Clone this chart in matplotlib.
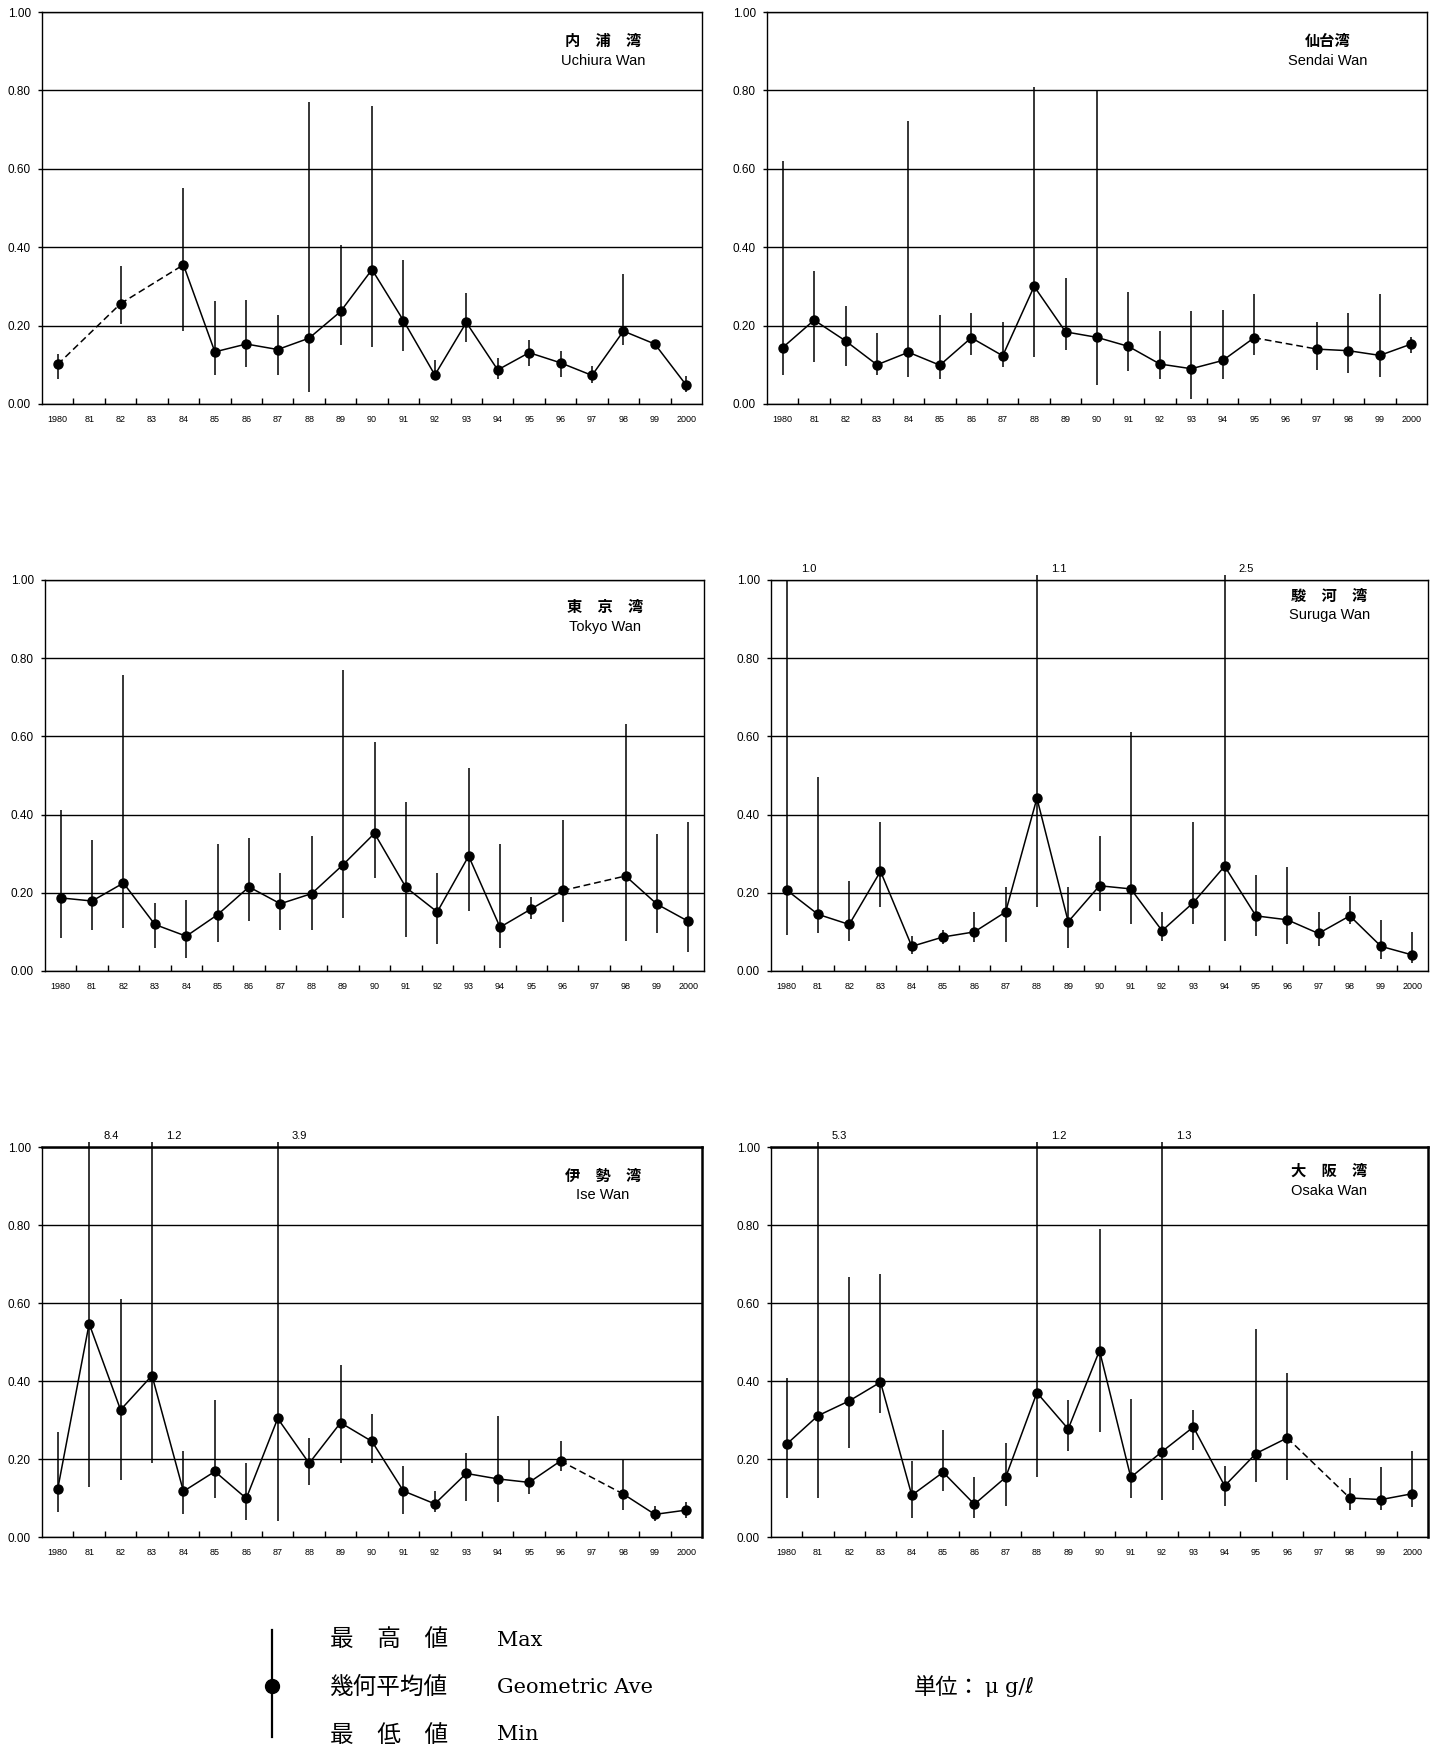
import numpy as np
import matplotlib.pyplot as plt
from matplotlib.patches import Rectangle

plt.rcParams['font.family'] = ['Liberation Sans', 'DejaVu Sans']

JP = ['Noto Sans CJK JP', 'DejaVu Sans']
SERIF = ['DejaVu Serif', 'DejaVu Sans']

nan = np.nan

years = list(range(1980, 2001))
year_labels = ['1980'] + ['%02d' % (y % 100) for y in years[1:-1]] + ['2000']

# geometric average / max / min per year (ug/l), nan = no survey
uchiura_ave = [0.101, nan, 0.256, nan, 0.355, 0.133, 0.153, 0.139, 0.168, 0.236, 0.343,
               0.213, 0.074, 0.208, 0.087, 0.131, 0.105, 0.073, 0.186, 0.153, 0.048]
uchiura_max = [0.128, nan, 0.351, nan, 0.552, 0.264, 0.266, 0.228, 0.770, 0.406, 0.761,
               0.367, 0.113, 0.283, 0.117, 0.163, 0.136, 0.096, 0.332, 0.164, 0.072]
uchiura_min = [0.065, nan, 0.205, nan, 0.185, 0.075, 0.094, 0.075, 0.030, 0.150, 0.145,
               0.135, 0.060, 0.159, 0.065, 0.098, 0.070, 0.053, 0.150, 0.143, 0.030]

sendai_ave = [0.144, 0.214, 0.161, 0.100, 0.132, 0.099, 0.169, 0.123, 0.300, 0.184, 0.170,
              0.147, 0.102, 0.090, 0.111, 0.169, nan, 0.140, 0.136, 0.124, 0.153]
sendai_max = [0.620, 0.340, 0.251, 0.181, 0.722, 0.226, 0.231, 0.210, 0.809, 0.322, 0.800,
              0.285, 0.186, 0.236, 0.241, 0.280, nan, 0.209, 0.231, 0.280, 0.171]
sendai_min = [0.073, 0.108, 0.098, 0.073, 0.069, 0.064, 0.124, 0.094, 0.119, 0.139, 0.049,
              0.083, 0.064, 0.014, 0.064, 0.124, nan, 0.086, 0.078, 0.069, 0.129]

tokyo_ave = [0.187, 0.179, 0.225, 0.119, 0.089, 0.144, 0.215, 0.172, 0.198, 0.272, 0.352,
             0.214, 0.151, 0.294, 0.112, 0.159, 0.206, nan, 0.243, 0.171, 0.127]
tokyo_max = [0.411, 0.336, 0.756, 0.175, 0.181, 0.325, 0.341, 0.250, 0.345, 0.771, 0.585,
             0.432, 0.250, 0.520, 0.325, 0.189, 0.386, nan, 0.631, 0.350, 0.381]
tokyo_min = [0.085, 0.105, 0.109, 0.060, 0.034, 0.074, 0.129, 0.105, 0.106, 0.135, 0.238,
             0.088, 0.069, 0.154, 0.059, 0.132, 0.126, nan, 0.078, 0.098, 0.049]

suruga_ave = [0.207, 0.145, 0.119, 0.255, 0.063, 0.087, 0.100, 0.151, 0.442, 0.126, 0.218,
              0.210, 0.103, 0.175, 0.268, 0.141, 0.131, 0.096, 0.141, 0.063, 0.041]
suruga_max = [1.0, 0.496, 0.231, 0.381, 0.089, 0.106, 0.150, 0.216, 1.1, 0.216, 0.345,
              0.610, 0.150, 0.381, 2.5, 0.245, 0.267, 0.150, 0.191, 0.130, 0.100]
suruga_min = [0.093, 0.098, 0.078, 0.164, 0.044, 0.069, 0.073, 0.074, 0.164, 0.060, 0.154,
              0.119, 0.078, 0.119, 0.078, 0.089, 0.069, 0.065, 0.119, 0.030, 0.020]

ise_ave = [0.123, 0.547, 0.326, 0.414, 0.117, 0.168, 0.099, 0.304, 0.189, 0.293, 0.245,
           0.118, 0.085, 0.163, 0.149, 0.140, 0.195, nan, 0.110, 0.058, 0.069]
ise_max = [0.270, 8.4, 0.610, 1.2, 0.221, 0.351, 0.191, 3.9, 0.255, 0.440, 0.316,
           0.182, 0.117, 0.215, 0.311, 0.197, 0.246, nan, 0.201, 0.080, 0.089]
ise_min = [0.064, 0.129, 0.145, 0.191, 0.060, 0.099, 0.044, 0.040, 0.134, 0.191, 0.191,
           0.060, 0.064, 0.093, 0.089, 0.111, 0.168, nan, 0.069, 0.041, 0.050]

osaka_ave = [0.238, 0.311, 0.349, 0.397, 0.107, 0.166, 0.084, 0.153, 0.370, 0.277, 0.478,
             0.153, 0.219, 0.282, 0.131, 0.214, 0.254, nan, 0.100, 0.096, 0.111]
osaka_max = [0.407, 5.3, 0.666, 0.675, 0.195, 0.275, 0.155, 0.242, 1.2, 0.351, 0.790,
             0.355, 1.3, 0.325, 0.183, 0.534, 0.420, nan, 0.151, 0.180, 0.220]
osaka_min = [0.099, 0.099, 0.229, 0.318, 0.050, 0.119, 0.050, 0.079, 0.155, 0.220, 0.269,
             0.099, 0.094, 0.224, 0.079, 0.140, 0.146, nan, 0.070, 0.070, 0.078]

bay_jp = ['内\u3000浦\u3000湾', '仙台湾', '東\u3000京\u3000湾',
          '駿\u3000河\u3000湾', '伊\u3000勢\u3000湾', '大\u3000阪\u3000湾']
bay_en = ['Uchiura Wan', 'Sendai Wan', 'Tokyo Wan', 'Suruga Wan', 'Ise Wan', 'Osaka Wan']

legend_jp = ['最\u3000高\u3000値', '幾何平均値', '最\u3000低\u3000値']
legend_en = ['Max', 'Geometric Ave', 'Min']

W, H = 1439, 1748
fig = plt.figure(figsize=(W / 100, H / 100), dpi=100)


def px_rect(x0, y0, x1, y1):
    return [x0 / W, 1 - y1 / H, (x1 - x0) / W, (y1 - y0) / H]


# axes boxes in pixels, name block position, frame width
layout = [
    (px_rect(42, 12, 702, 404), 0.85, 0.926, 1.0),
    (px_rect(767, 12, 1427, 404), 0.85, 0.926, 1.0),
    (px_rect(45, 580, 704, 971), 0.85, 0.930, 1.0),
    (px_rect(771, 580, 1428, 971), 0.85, 0.960, 1.0),
    (px_rect(42, 1147, 702, 1537), 0.85, 0.926, 1.8),
    (px_rect(771, 1147, 1428, 1537), 0.85, 0.938, 1.8),
]

series = [
    (uchiura_ave, uchiura_max, uchiura_min),
    (sendai_ave, sendai_max, sendai_min),
    (tokyo_ave, tokyo_max, tokyo_min),
    (suruga_ave, suruga_max, suruga_min),
    (ise_ave, ise_max, ise_min),
    (osaka_ave, osaka_max, osaka_min),
]


def draw_panel(rect, name_x, name_y, frame_w, jp, en, ave, vmax, vmin):
    ax = fig.add_axes(rect)
    ave = np.array(ave, float)
    vmax = np.array(vmax, float)
    vmin = np.array(vmin, float)
    x = np.arange(len(years))
    ok = ~np.isnan(ave)
    idx = x[ok]

    # max-min range bars, allowed to poke slightly above the frame
    bars = ax.vlines(idx, vmin[ok], vmax[ok], color='black', lw=1.1, zorder=2)
    bars.set_clip_path(Rectangle((0, 0), 1, 1.012, transform=ax.transAxes))

    # average line: dashed across a missing year
    for a, b in zip(idx[:-1], idx[1:]):
        ls = '-' if b - a == 1 else (0, (4.5, 2.5))
        ax.plot([a, b], [ave[a], ave[b]], color='black', lw=1.1, ls=ls, zorder=2)
    ax.plot(idx, ave[ok], 'o', color='black', ms=6.5, zorder=3)

    # off-scale maxima written above the frame
    for i in idx:
        if vmax[i] >= 1.0:
            ax.text(i + 0.45, 1.027, '%.1f' % vmax[i], transform=ax.get_xaxis_transform(),
                    ha='left', va='center', fontsize=8)

    ax.set_xlim(-0.5, len(years) - 0.5)
    ax.set_ylim(0, 1)
    ax.set_xticks(x)
    ax.set_xticklabels(year_labels, fontsize=6.5)
    ax.set_xticks(x[:-1] + 0.5, minor=True)
    ax.tick_params(axis='x', which='major', length=0, pad=8)
    ax.tick_params(axis='x', which='minor', direction='in', length=4, width=1.0)
    ax.set_yticks(np.arange(0, 1.01, 0.2))
    ax.set_yticklabels(['%.2f' % v for v in np.arange(0, 1.01, 0.2)], fontsize=8.5)
    ax.tick_params(axis='y', length=3, width=1.0, pad=5)
    ax.yaxis.grid(True, color='black', lw=1.0)
    ax.set_axisbelow(True)
    for s in ax.spines.values():
        s.set_linewidth(1.0)
    ax.spines['top'].set_linewidth(frame_w)
    ax.spines['right'].set_linewidth(frame_w)

    ax.text(name_x, name_y, jp, transform=ax.transAxes, ha='center', va='center',
            fontsize=11, fontweight='bold', family=JP)
    ax.text(name_x, name_y - 0.05, en, transform=ax.transAxes, ha='center', va='center',
            fontsize=10.5)


for (rect, nx, ny, fw), jp, en, (a, mx, mn) in zip(layout, bay_jp, bay_en, series):
    draw_panel(rect, nx, ny, fw, jp, en, a, mx, mn)

# legend and unit at the bottom, laid out in pixel coordinates
leg = fig.add_axes([0, 0, 1, 1])
leg.set_xlim(0, W)
leg.set_ylim(H, 0)
leg.axis('off')
leg.plot([272, 272], [1630, 1737], color='black', lw=1.6)
leg.plot([272], [1686], 'o', color='black', ms=10)
for k, (jp, en) in enumerate(zip(legend_jp, legend_en)):
    yy = 1640 + 47.5 * k
    leg.text(330, yy, jp, ha='left', va='center', fontsize=17, family=JP)
    leg.text(497, yy, en, ha='left', va='center', fontsize=15, family=SERIF)
leg.text(914, 1687, '単位：', ha='left', va='center', fontsize=16, family=JP)
leg.text(985, 1687, 'μ g/ℓ', ha='left', va='center', fontsize=15, family=SERIF)

fig.savefig('out.png', dpi=100)
